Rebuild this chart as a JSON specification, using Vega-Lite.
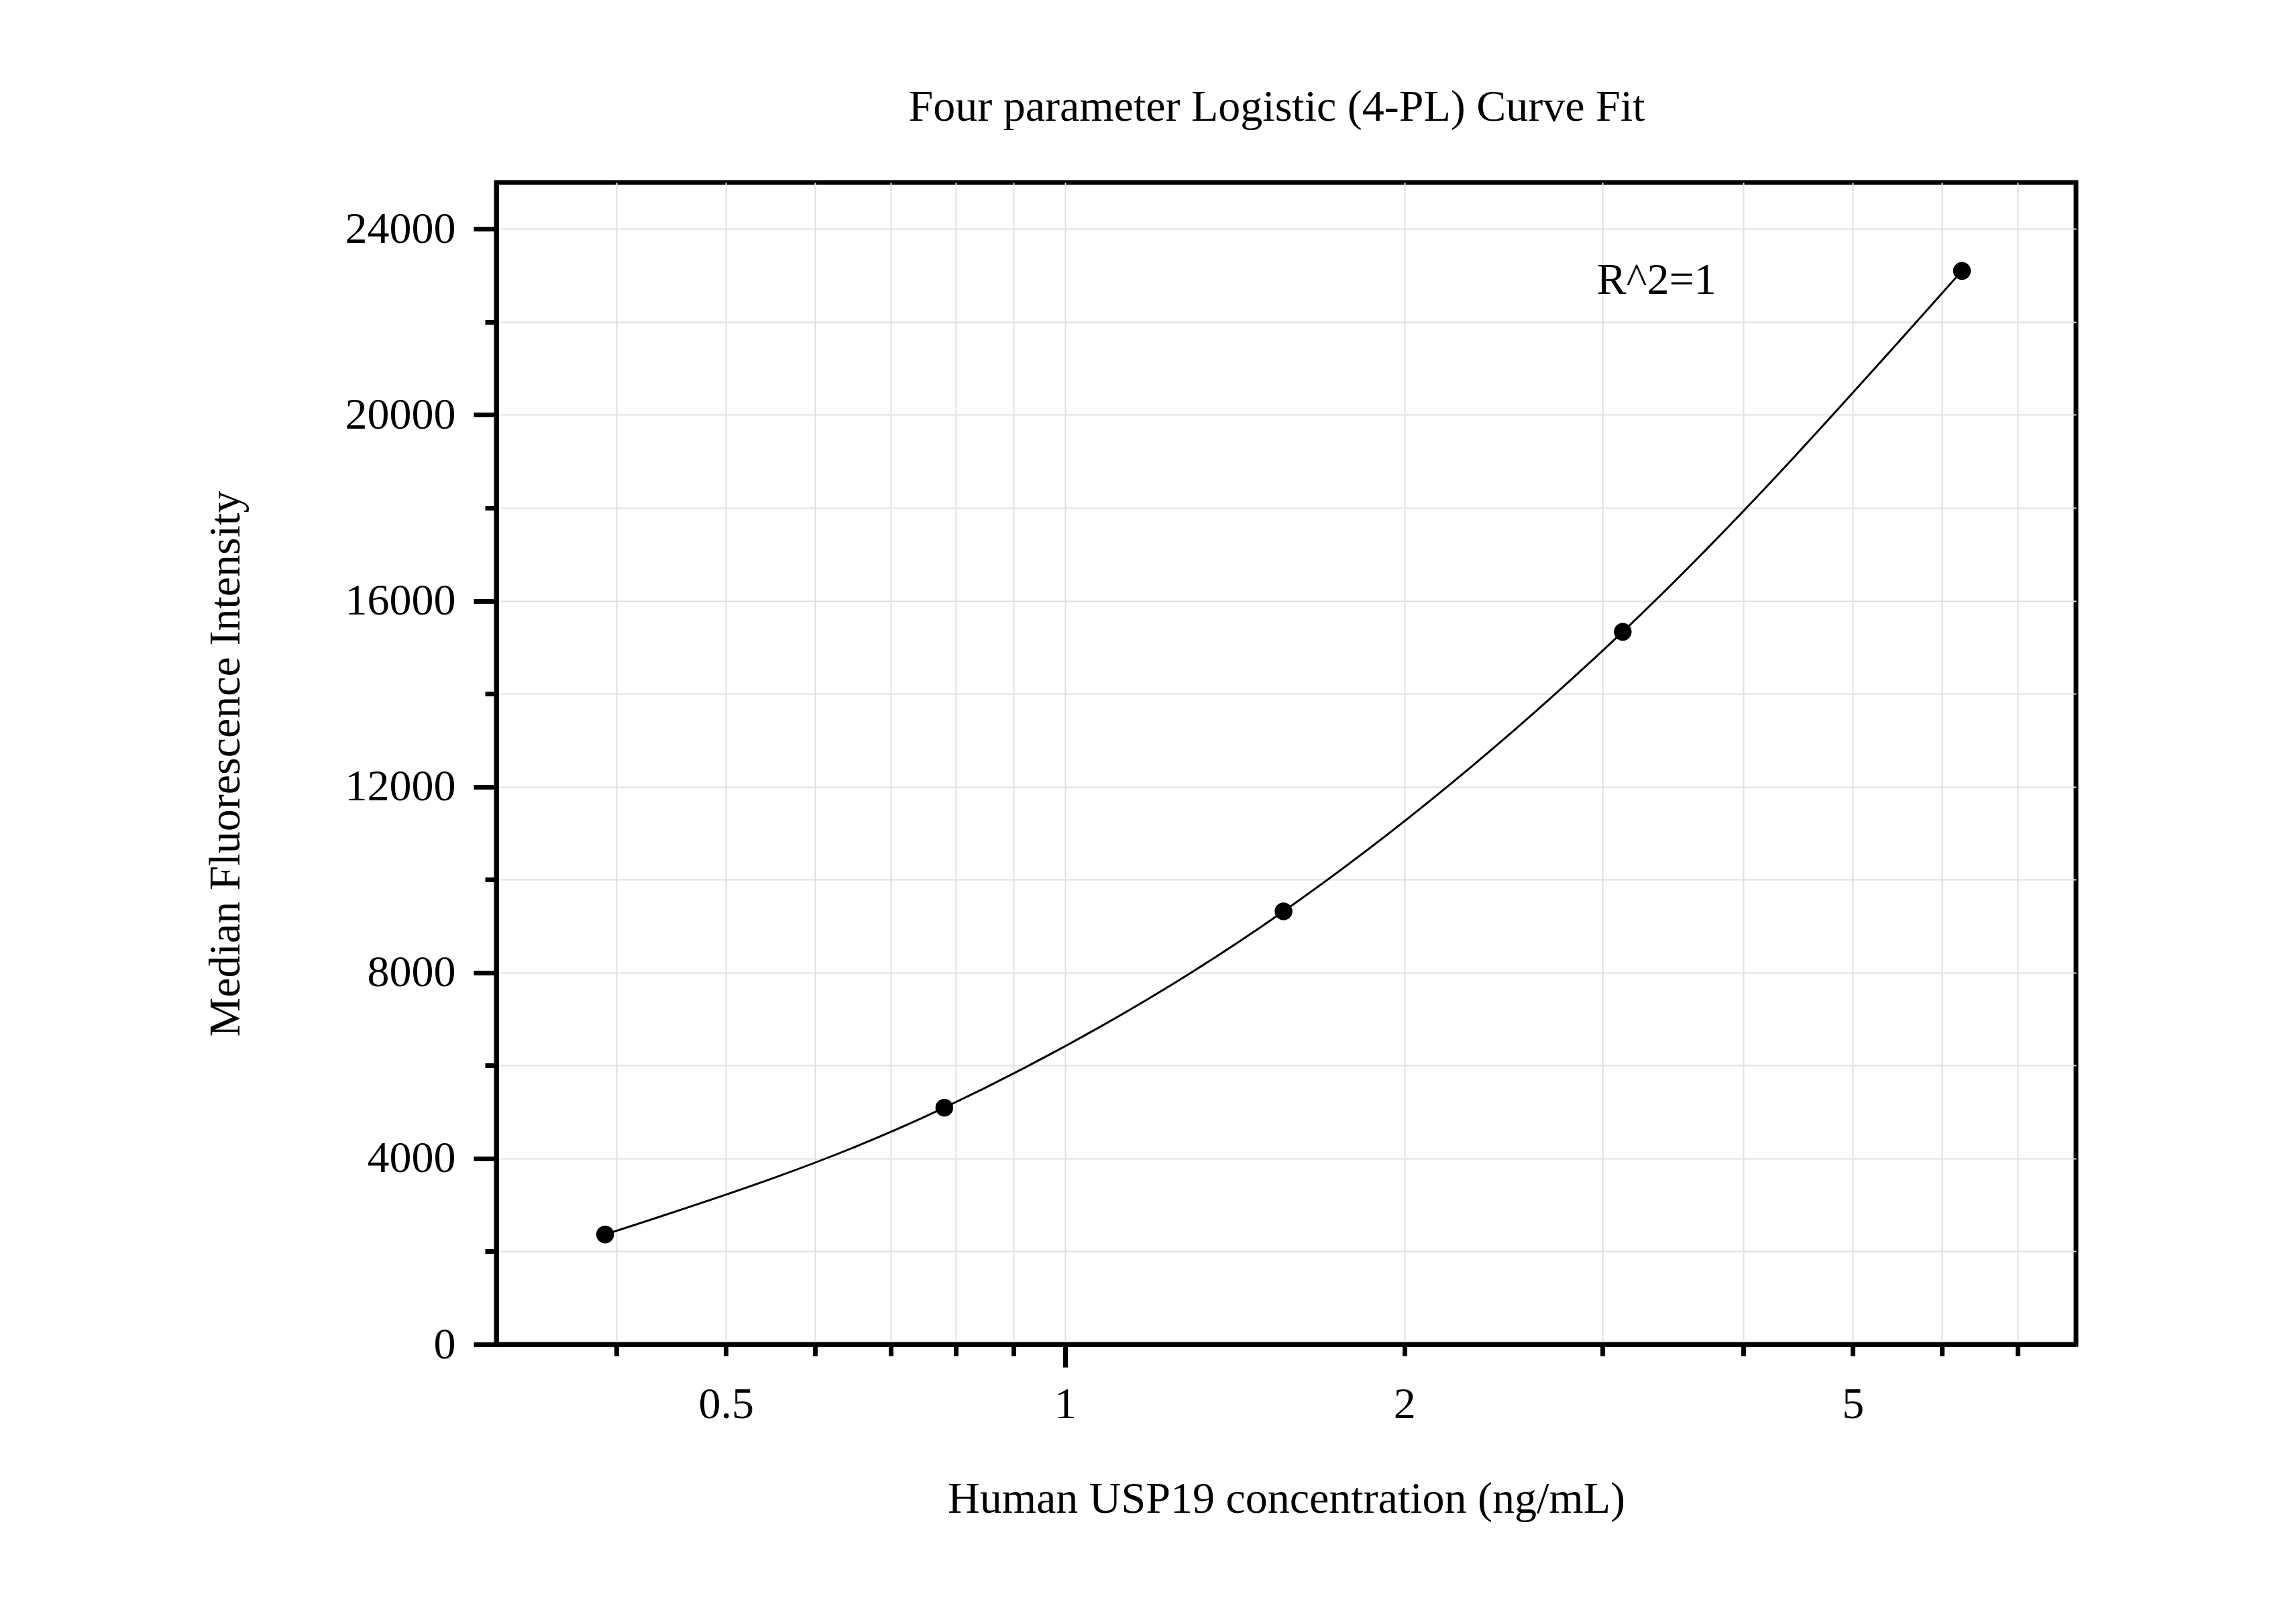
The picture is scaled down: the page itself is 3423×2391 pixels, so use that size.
{
  "$schema": "https://vega.github.io/schema/vega-lite/v6.json",
  "width": 2355,
  "height": 1732,
  "autosize": {"type": "none"},
  "padding": {"left": 740, "top": 272, "right": 328, "bottom": 387},
  "background": "white",
  "title": {
    "text": "Four parameter Logistic (4-PL) Curve Fit",
    "font": "Liberation Serif",
    "fontSize": 66,
    "fontWeight": "normal",
    "color": "black",
    "anchor": "middle",
    "baseline": "alphabetic",
    "offset": 26,
    "dx": -14
  },
  "config": {
    "view": {"stroke": "black", "strokeWidth": 7},
    "axis": {
      "labelFont": "Liberation Serif",
      "labelFontSize": 66,
      "labelColor": "black",
      "titleFont": "Liberation Serif",
      "titleFontSize": 66,
      "titleFontWeight": "normal",
      "titleColor": "black",
      "grid": true,
      "gridColor": "#e0e0e0",
      "gridWidth": 2,
      "domain": true,
      "domainColor": "black",
      "domainWidth": 7,
      "tickColor": "black",
      "tickWidth": 7,
      "labelOverlap": false,
      "labelFlush": false
    }
  },
  "data": {
    "values": [
      {"conc": 0.390625, "mfi": 2365},
      {"conc": 0.78125, "mfi": 5092},
      {"conc": 1.5625, "mfi": 9318},
      {"conc": 3.125, "mfi": 15332},
      {"conc": 6.25, "mfi": 23097}
    ]
  },
  "encoding": {
    "x": {
      "field": "conc",
      "type": "quantitative",
      "scale": {"type": "log", "domain": [0.3128, 7.89], "nice": false},
      "axis": {
        "title": "Human USP19 concentration (ng/mL)",
        "values": [0.4, 0.5, 0.6, 0.7, 0.8, 0.9, 1, 2, 3, 4, 5, 6, 7],
        "labelExpr": "datum.value == 0.5 ? '0.5' : datum.value == 1 ? '1' : datum.value == 2 ? '2' : datum.value == 5 ? '5' : ''",
        "tickSize": {"condition": {"test": "datum.value == 1", "value": 34}, "value": 17},
        "labelPadding": {"condition": {"test": "datum.value == 1", "value": 23}, "value": 40},
        "titlePadding": 76
      }
    },
    "y": {
      "field": "mfi",
      "type": "quantitative",
      "scale": {"domain": [0, 25000], "nice": false, "zero": true},
      "axis": {
        "title": "Median Fluorescence Intensity",
        "values": [0, 2000, 4000, 6000, 8000, 10000, 12000, 14000, 16000, 18000, 20000, 22000, 24000],
        "format": "d",
        "labelExpr": "datum.value % 4000 === 0 ? datum.label : ''",
        "tickSize": {"condition": {"test": "datum.value % 4000 === 0", "value": 34}, "value": 17},
        "labelPadding": 27,
        "titlePadding": 170
      }
    }
  },
  "layer": [
    {
      "mark": {"type": "line", "interpolate": "monotone", "color": "black", "strokeWidth": 3}
    },
    {
      "mark": {"type": "circle", "size": 700, "color": "black", "opacity": 1}
    },
    {
      "data": {"values": [{"conc": 2.963, "mfi": 22602, "label": "R^2=1"}]},
      "mark": {"type": "text", "font": "Liberation Serif", "fontSize": 66, "color": "black", "align": "left", "baseline": "alphabetic"},
      "encoding": {"text": {"field": "label", "type": "nominal"}}
    }
  ]
}
